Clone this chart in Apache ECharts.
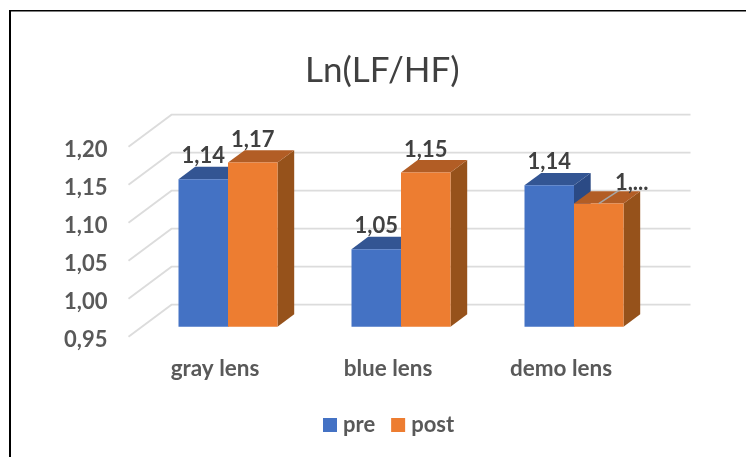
<!DOCTYPE html>
<html lang="en">
<head>
    <meta charset="UTF-8">
    <title>Ln(LF/HF)</title>
    <style>
        html, body { margin: 0; padding: 0; background: #fff; }
        #chart { width: 746px; height: 457px; }
    </style>
</head>
<body>
    <div id="chart"></div>
    <script src="https://cdn.jsdelivr.net/npm/echarts@6/dist/echarts.min.js"></script>
    <script>
        var categories = ['gray lens', 'blue lens', 'demo lens'];
        var preValues = [1.144, 1.052, 1.136];
        var postValues = [1.166, 1.153, 1.112];
        var preLabels = ['1,14', '1,05', '1,14'];
        var postLabels = ['1,17', '1,15', '1,...'];
        var yTicks = [0.95, 1.00, 1.05, 1.10, 1.15, 1.20];

        var font = 'Lato';
        var barW = 49.5;
        // bars stand part way into the floor, walls at the back of it
        var inX = 13, inY = 10, floorX = 43, floorY = 32;
        var depthX = 16.7, depthY = 12.4;

        function gridRender(params, api) {
            var p = api.coord([0, api.value(1)]);
            var x0 = params.coordSys.x;
            var x1 = x0 + params.coordSys.width;
            return {
                type: 'polyline',
                silent: true,
                shape: { points: [[x0, p[1]], [x0 + floorX, p[1] - floorY], [x1 + floorX, p[1] - floorY]] },
                style: { stroke: '#dcdcdc', lineWidth: 1.8, fill: null }
            };
        }

        function barRender(colors, side, labels) {
            return function (params, api) {
                var i = params.dataIndex;
                var base = api.coord([i, 0.95]);
                var top = api.coord([i, api.value(1)]);
                var cx = base[0] + inX;
                var x0 = side < 0 ? cx - barW : cx;
                var x1 = x0 + barW;
                var y0 = base[1] - inY;
                var y1 = top[1] - inY;
                var text = labels[i];
                var cut = text.indexOf('...') >= 0;
                var tx = (x0 + x1) / 2 + (cut ? 33 : 0);
                var ty = y1 - (cut ? 21 : 23);
                var kids = [
                    { type: 'polygon', shape: { points: [[x1, y1], [x1 + depthX, y1 - depthY], [x1 + depthX, y0 - depthY], [x1, y0]] }, style: { fill: colors[2] } },
                    { type: 'polygon', shape: { points: [[x0, y1], [x0 + depthX, y1 - depthY], [x1 + depthX, y1 - depthY], [x1, y1]] }, style: { fill: colors[1] } },
                    { type: 'rect', shape: { x: x0, y: y1, width: barW, height: y0 - y1 }, style: { fill: colors[0] } }
                ];
                if (cut) {
                    kids.push({ type: 'line', shape: { x1: (x0 + x1) / 2, y1: y1, x2: (x0 + x1) / 2 + 23, y2: y1 - 15 }, style: { stroke: '#a6a6a6', lineWidth: 1.5 } });
                }
                kids.push({
                    type: 'text',
                    style: { x: tx, y: ty, text: text, align: 'center', verticalAlign: 'middle', fill: '#404040', font: 'bold 22px ' + font }
                });
                return { type: 'group', children: kids };
            };
        }

        var chart = echarts.init(document.getElementById('chart'), null, { renderer: 'canvas' });
        chart.setOption({
            animation: false,
            backgroundColor: '#fff',
            textStyle: { fontFamily: font },
            title: {
                text: 'Ln(LF/HF)',
                left: 300,
                top: 48,
                textStyle: { fontFamily: font, fontSize: 35, fontWeight: 'normal', color: '#404040' }
            },
            legend: {
                left: 323,
                top: 414,
                padding: 0,
                itemWidth: 14,
                itemHeight: 14,
                itemGap: 16,
                icon: 'rect',
                data: ['pre', 'post'],
                textStyle: { fontFamily: font, fontSize: 22, fontWeight: 'bold', color: '#595959', padding: [0, 0, 0, 1] }
            },
            grid: { left: 128.5, right: 98.5, top: 146.7, bottom: 120.3 },
            xAxis: {
                type: 'category',
                data: categories,
                axisLine: { show: false },
                axisTick: { show: false },
                axisLabel: { margin: 21, fontFamily: font, fontSize: 22.5, fontWeight: 'bold', color: '#595959' }
            },
            yAxis: {
                type: 'value',
                min: 0.95,
                max: 1.2,
                interval: 0.05,
                splitLine: { show: false },
                axisLine: { show: false },
                axisTick: { show: false },
                axisLabel: {
                    margin: 21,
                    fontFamily: font,
                    fontSize: 22,
                    fontWeight: 'bold',
                    color: '#595959',
                    verticalAlign: 'top',
                    lineHeight: 6,
                    formatter: function (v) { return v.toFixed(2).replace('.', ','); }
                }
            },
            graphic: [
                { type: 'rect', shape: { x: 9, y: 10, width: 737, height: 1.5 }, style: { fill: '#000' } },
                { type: 'rect', shape: { x: 9, y: 10, width: 2, height: 447 }, style: { fill: '#000' } }
            ],
            series: [
                {
                    type: 'custom',
                    name: 'walls',
                    silent: true,
                    clip: false,
                    z: 1,
                    renderItem: gridRender,
                    data: yTicks.map(function (t) { return [0, t]; })
                },
                {
                    type: 'custom',
                    name: 'pre',
                    clip: false,
                    z: 2,
                    itemStyle: { color: '#4472C4' },
                    renderItem: barRender(['#4472C4', '#335593', '#2B4A85'], -1, preLabels),
                    data: preValues.map(function (v, i) { return [i, v]; })
                },
                {
                    type: 'custom',
                    name: 'post',
                    clip: false,
                    z: 3,
                    itemStyle: { color: '#ED7D31' },
                    renderItem: barRender(['#ED7D31', '#B25D25', '#96521B'], 1, postLabels),
                    data: postValues.map(function (v, i) { return [i, v]; })
                }
            ]
        });
    </script>
</body>
</html>
